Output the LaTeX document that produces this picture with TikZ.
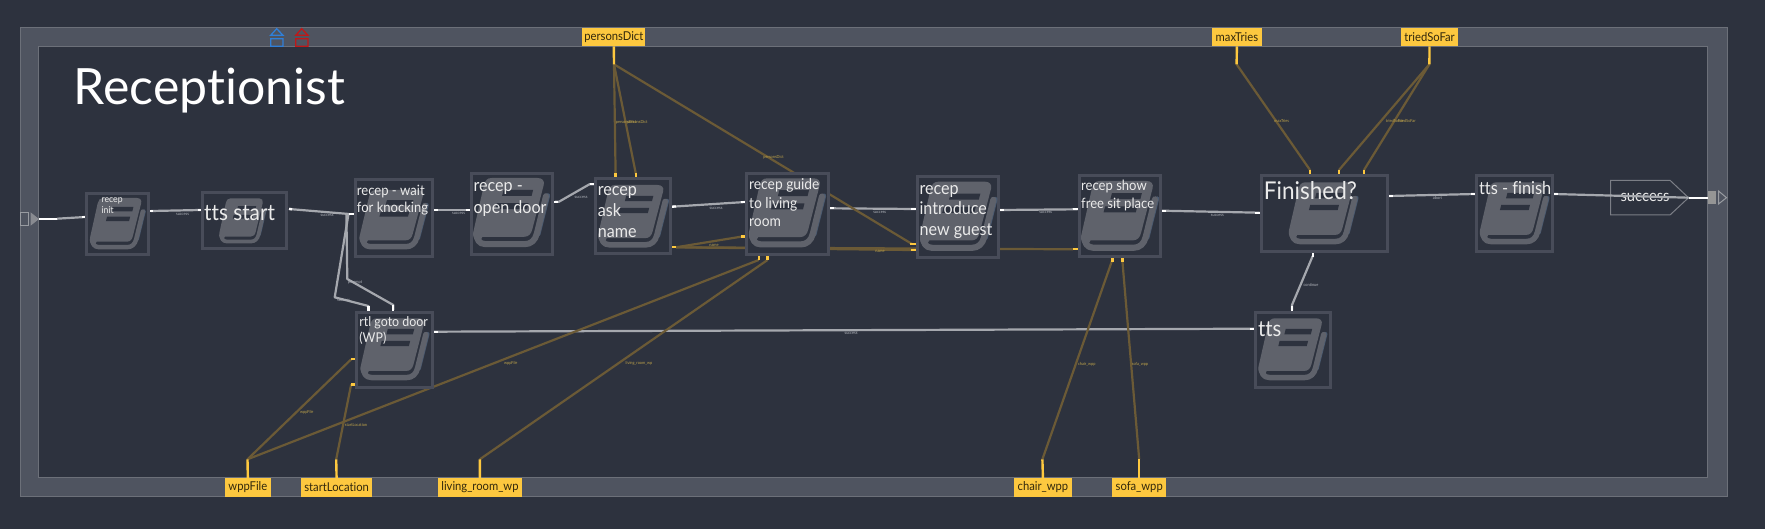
\documentclass[tikz,border=0pt]{standalone}
\usepackage{fontspec}
\setmainfont{Lato}[FakeStretch=0.92,Ligatures=NoCommon]
\newfontfamily\ttlfont{Lato}[Ligatures=NoCommon]
\definecolor{bgc}{HTML}{2D323E}
\definecolor{bandc}{HTML}{4F5460}
\definecolor{edgec}{HTML}{6C7079}
\definecolor{boxc}{HTML}{484C59}
\definecolor{iconc}{HTML}{5F626B}
\definecolor{iconb}{HTML}{4A5A70}
\definecolor{yelc}{HTML}{FDC83F}
\definecolor{brownc}{HTML}{6B5A36}
\definecolor{flowc}{HTML}{A5A8AE}
\definecolor{lblc}{HTML}{B0B3BA}
\definecolor{dlblc}{HTML}{BDA24A}
\definecolor{bluec}{HTML}{2F7FD8}
\definecolor{redc}{HTML}{C01818}
\pgfdeclarelayer{back}
\pgfdeclarelayer{wires}
\pgfsetlayers{back,wires,main}
\tikzset{
  x=1pt,y=-1pt,
  boxst/.style={draw=boxc,line width=3pt,fill=bgc,outer sep=0pt},
  flow/.style={draw=flowc,line width=2.2pt,line join=round},
  flowtick/.style={draw=white,line width=2.3pt},
  data/.style={draw=brownc,line width=2.2pt,line join=round},
  datatick/.style={draw=yelc,line width=2.4pt},
  flowlbl/.style={text=lblc,font=\fontsize{4.2}{5}\selectfont,inner sep=0pt,anchor=center},
  datalbl/.style={text=dlblc,font=\fontsize{4.2}{5}\selectfont,inner sep=0pt,anchor=center},
  portlbl/.style={fill=yelc,text=black!80!yelc,font=\fontsize{12.2}{13}\selectfont,inner sep=0pt,anchor=center,outer sep=0pt},
  tx/.style={text=white!92!black,inner sep=0pt,anchor=base west,align=left},
}
% box: name x1 y1 x2 y2 ; icon: x y w h
\newcommand{\bookbox}[9]{%
  \node[boxst,minimum width=#4pt-#2pt-3pt,minimum height=#5pt-#3pt-3pt,inner sep=0pt,anchor=north west] (#1) at (#2+1.5,#3+1.5) {};
  \begin{scope}[shift={(#6,#7)},x=#8pt,y=-#9pt]
    \draw[iconb,line width=0.06*#8pt,line cap=round,line join=round] (0.985,0.25) -- (0.858,0.80);
    \draw[iconc,line width=0.08*#8pt,line cap=round,line join=round] (0.96,0.26) -- (0.84,0.79) .. controls (0.82,0.89) and (0.76,0.945) .. (0.68,0.945) -- (0.16,0.945) .. controls (0.07,0.945) and (0.04,0.87) .. (0.045,0.79);
    \fill[iconc] (0.24,0) -- (0.85,0) .. controls (0.91,0) and (0.945,0.04) .. (0.93,0.10) -- (0.78,0.73) .. controls (0.765,0.80) and (0.73,0.84) .. (0.67,0.84) -- (0.12,0.84) -- (0.09,0.90) -- (0.03,0.90) .. controls (-0.01,0.84) and (-0.01,0.80) .. (0.005,0.74) -- (0.14,0.10) .. controls (0.155,0.04) and (0.18,0) .. (0.24,0) -- cycle;
    \fill[bgc] (0.40,0.17) -- (0.79,0.17) -- (0.77,0.255) -- (0.38,0.255) -- cycle;
    \fill[bgc] (0.31,0.36) -- (0.73,0.36) -- (0.71,0.445) -- (0.29,0.445) -- cycle;
  \end{scope}}
\newcommand{\fs}[2]{\fontsize{#1}{#2}\selectfont}
\begin{document}
\begin{tikzpicture}
\useasboundingbox (0,0) rectangle (1765,529);
\begin{pgfonlayer}{back}
  \fill[bgc] (0,0) rectangle (1765,529);
  \fill[bandc,even odd rule] (20,27.7) rectangle (1727,496.7) (38.3,46.3) rectangle (1707.7,477.7);
  \draw[edgec,line width=1pt] (20,27.7) rectangle (1727,496.7);
  \draw[edgec,line width=1pt] (38.3,46.3) rectangle (1707.7,477.7);
  % success outcome
  \draw[edgec!90!white,line width=1pt] (1610.5,180.3) -- (1670,180.3) -- (1688.5,197.7) -- (1670,215) -- (1610.5,215) -- cycle;
  \node[tx,font=\fs{16}{17}] (success) at (1620.4,202) {success};
\end{pgfonlayer}

% frame icons
\draw[bluec,line width=1.3pt,line join=miter] (270.7,35.3) -- (276.7,28.7) -- (283,35.3) -- cycle (270.7,38.7) rectangle (283,46.3);
\draw[redc,line width=1.3pt,line join=miter] (295.8,35.3) -- (301.7,28.7) -- (308,35.3) -- cycle (295.8,38.7) rectangle (308,46.3);
% entry and exit
\draw[edgec!70!white,line width=1pt] (20.5,212.3) rectangle (28.3,225.7);
\fill[edgec!70!white!90!black] (30.6,212.3) -- (39,219) -- (30.6,225.7) -- cycle;
\fill[black!10!white!65!black] (1707.7,190.7) rectangle (1716,204.3);
\draw[edgec!70!white,line width=1pt] (1718.5,191) -- (1726.5,197.7) -- (1718.5,204) -- cycle;

\node[text=white,inner sep=0pt,anchor=base west,font=\ttlfont\fs{50}{52}] (title) at (73.4,105) {Receptionist};

% state boxes
\bookbox{init}{85}{191.7}{149.6}{255.7}{90}{198}{55}{52}
\bookbox{ttsstart}{200.5}{191.3}{288}{250}{219.3}{198.3}{46.7}{45.7}
\bookbox{wait}{353.6}{178.3}{433.6}{257.7}{359.7}{190}{68}{60}
\bookbox{open}{469.6}{171.7}{553.8}{255.7}{473.4}{178}{75.6}{70}
\bookbox{ask}{594.2}{177.3}{671.8}{255}{598.4}{185}{69.6}{63.3}
\bookbox{guide}{745.3}{171.7}{829.5}{255.7}{749}{178.3}{76}{70}
\bookbox{intro}{915.6}{175}{999.8}{258.7}{920}{181.7}{76.4}{70}
\bookbox{show}{1077.5}{174.3}{1161.7}{258.3}{1081.3}{181}{76.7}{70.7}
\bookbox{finished}{1259.5}{174.3}{1388.9}{252.7}{1289}{182.3}{68.5}{62.7}
\bookbox{ttsfinish}{1475.4}{174.3}{1553.8}{252.7}{1480}{182.3}{68.5}{62.7}
\bookbox{rtl}{355.4}{310.7}{433.8}{388.7}{360.7}{318.3}{67.8}{62.7}
\bookbox{tts}{1254.4}{310.7}{1331.7}{388.7}{1258.6}{318.3}{67.8}{62.7}

% state texts
\node[tx,font=\fs{9.4}{10.6}] (initt) at (101.4,213.3) {recep\\init};
\node[tx,font=\fs{22.5}{24}] (ttsstartt) at (204,220.7) {tts start};
\node[tx,font=\fs{14.2}{17}] (waitt) at (356.7,212.7) {recep - wait\\for knocking};
\node[tx,font=\fs{17.5}{21.7}] (opent) at (473.4,213.3) {recep -\\open door};
\node[tx,font=\fs{17.5}{20.9}] (askt) at (597.6,237.7) {recep\\ask\\name};
\node[tx,font=\fs{15}{18.5}] (guidet) at (749,227) {recep guide\\to living\\room};
\node[tx,font=\fs{17.5}{20.7}] (introt) at (919.4,235.7) {recep\\introduce\\new guest};
\node[tx,font=\fs{14.2}{17.3}] (showt) at (1081,208.3) {recep show\\free sit place};
\node[tx,font=\fs{24.5}{26}] (finishedt) at (1263.7,200) {Finished?};
\node[tx,font=\fs{17.8}{20}] (ttsfinisht) at (1478.8,194.3) {tts - finish};
\node[tx,font=\fs{13.5}{15.6}] (rtlt) at (359.2,342.3) {rtl goto door\\(WP)};
\node[tx,font=\fs{22}{23}] (ttst) at (1257.8,336.7) {tts};

% data ports on the frame
\node[portlbl,minimum width=63.1pt,minimum height=18.6pt] (persons) at (613.85,37) {personsDict};
\node[portlbl,minimum width=49.8pt,minimum height=18.6pt] (maxtries) at (1236.9,37) {maxTries};
\node[portlbl,minimum width=57pt,minimum height=18.6pt] (tried) at (1429.5,37) {triedSoFar};
\node[portlbl,minimum width=45.9pt,minimum height=18.4pt] (wppfile) at (247.85,487.5) {wppFile};
\node[portlbl,minimum width=70.4pt,minimum height=18.4pt] (startloc) at (336.6,487.5) {startLocation};
\node[portlbl,minimum width=83.1pt,minimum height=18.4pt] (living) at (479.95,487.5) {living\_room\_wp};
\node[portlbl,minimum width=57.1pt,minimum height=18.4pt] (chair) at (1042.95,487.5) {chair\_wpp};
\node[portlbl,minimum width=53.6pt,minimum height=18.4pt] (sofa) at (1139.2,487.5) {sofa\_wpp};

% knots and ports
\coordinate (pK) at (614,64.3);
\coordinate (mK) at (1236.6,64.3);
\coordinate (tK) at (1429.4,64.3);
\coordinate (wK) at (247.5,459.3);
\coordinate (sK) at (336.2,459.3);
\coordinate (lK) at (479.8,459.3);
\coordinate (cK) at (1042.4,459.3);
\coordinate (oK) at (1139.2,459.3);

\begin{pgfonlayer}{wires}
  % flow connectors
  \draw[flow] (57,218.7) -- (85,217);
  \draw[flow] (151,211) -- (200.5,210);
  \draw[flow] (289,209) -- (349,214);
  \draw[flow] (433.6,210) -- (469.6,210);
  \draw[flow] (555,201.7) -- (559,201.7) -- (589.4,184.3) -- (594.2,184.3);
  \draw[flow] (672,206.7) -- (745.3,202);
  \draw[flow] (829.5,208.3) -- (915.6,209);
  \draw[flow] (999.8,210) -- (1077.5,209.3);
  \draw[flow] (1161.7,210.7) -- (1259.5,212.7);
  \draw[flow] (1388.9,196) -- (1475.4,194);
  \draw[flow] (1553.8,194) -- (1688.5,197.7);
  \draw[flow] (348.5,214) -- (334.7,297.3) -- (368.4,306) -- (368.4,310);
  \draw[flow] (346.4,214) -- (347.3,279) -- (393.3,305) -- (393.3,310);
  \draw[flow] (433.8,331.7) -- (1254.4,328.7);
  \draw[flow] (1312.7,256) -- (1292,305) -- (1292,310);
  % white ticks
  \draw[flowtick] (39,218.7) -- (57,218.7);
  \draw[flowtick] (82,217) -- (85,217);
  \draw[flowtick] (150,211) -- (153,211);
  \draw[flowtick] (197.5,210) -- (200.5,210);
  \draw[flowtick] (289,209) -- (292,209.2);
  \draw[flowtick] (349,214) -- (353.6,214);
  \draw[flowtick] (434,210) -- (437.5,210);
  \draw[flowtick] (465.5,210) -- (469.6,210);
  \draw[flowtick] (553.8,201.7) -- (558,201.7);
  \draw[flowtick] (590,184.3) -- (594.2,184.3);
  \draw[flowtick] (672,206.7) -- (676,206.5);
  \draw[flowtick] (741,202) -- (745.3,202);
  \draw[flowtick] (829.5,208.3) -- (834,208.3);
  \draw[flowtick] (911,209) -- (915.6,209);
  \draw[flowtick] (999.8,210) -- (1004,210);
  \draw[flowtick] (1073,209.3) -- (1077.5,209.3);
  \draw[flowtick] (1161.7,210.7) -- (1166,210.7);
  \draw[flowtick] (1255,212.7) -- (1259.5,212.7);
  \draw[flowtick] (1388.9,196) -- (1393,196);
  \draw[flowtick] (1471,194) -- (1475.4,194);
  \draw[flowtick] (1553.8,194) -- (1558,194);
  \draw[flowtick] (1688.5,197.7) -- (1707.7,197.7);
  \draw[flowtick] (368.4,306) -- (368.4,310.7);
  \draw[flowtick] (393.3,305.5) -- (393.3,310.7);
  \draw[flowtick] (433.8,331.7) -- (438,331.7);
  \draw[flowtick] (1250,328.7) -- (1254.4,328.7);
  \draw[flowtick] (1312.7,252.7) -- (1312.7,257);
  \draw[flowtick] (1292,306) -- (1292,310.7);

  % data connectors
  \draw[data] (pK) -- (615.6,174);
  \draw[data] (pK) -- (635.9,174);
  \draw[data] (pK) -- (912,244);
  \draw[data] (676,247.3) -- (741,236.7);
  \draw[data] (676,247.3) -- (911,250);
  \draw[data] (676,247.3) -- (1073,249.3);
  \draw[data] (wK) -- (351.2,359.3);
  \draw[data] (wK) -- (758.7,260);
  \draw[data] (sK) -- (351.2,384.3);
  \draw[data] (lK) -- (767.5,260);
  \draw[data] (cK) -- (1112.3,260);
  \draw[data] (oK) -- (1122.3,260);
  \draw[data] (mK) -- (1310,170);
  \draw[data] (tK) -- (1339,170);
  \draw[data] (tK) -- (1364,170);
  % yellow ticks
  \draw[datatick] (persons.south) -- (pK);
  \draw[datatick] (maxtries.south) -- (mK);
  \draw[datatick] (tried.south) -- (tK);
  \draw[datatick] (wppfile.north) -- (wK);
  \draw[datatick] (startloc.north) -- (sK);
  \draw[datatick] (living.north) -- (lK);
  \draw[datatick] (chair.north) -- (cK);
  \draw[datatick] (sofa.north) -- (oK);
  \draw[datatick] (615.6,173.5) -- (615.6,177.3);
  \draw[datatick] (635.9,173.5) -- (635.9,177.3);
  \draw[datatick] (910,244) -- (915.6,244);
  \draw[datatick] (671.8,247.3) -- (676,247.3);
  \draw[datatick] (741,236.7) -- (745.3,236.7);
  \draw[datatick] (911,250) -- (915.6,250);
  \draw[datatick] (1073,249.3) -- (1077.5,249.3);
  \draw[datatick] (351.2,359.3) -- (355.4,359.3);
  \draw[datatick] (351.2,384.3) -- (355.4,384.3);
  \draw[datatick] (758.7,255.7) -- (758.7,260);
  \draw[datatick] (767.5,255.7) -- (767.5,260);
  \draw[datatick] (1112.3,258.3) -- (1112.3,262);
  \draw[datatick] (1122.3,258.3) -- (1122.3,262);
  \draw[datatick] (1310,169.7) -- (1310,174.3);
  \draw[datatick] (1339,169.7) -- (1339,174.3);
  \draw[datatick] (1364,169.7) -- (1364,174.3);
\end{pgfonlayer}

% connector labels
\node[flowlbl] (f1) at (182.5,214) {success};
\node[flowlbl] (f2) at (327,215.3) {success};
\node[flowlbl] (f3) at (458.5,213.7) {success};
\node[flowlbl] (f4) at (581,197) {success};
\node[flowlbl] (f5) at (716,208) {success};
\node[flowlbl] (f6) at (879.7,212.3) {success};
\node[flowlbl] (f7) at (1045.7,212.7) {success};
\node[flowlbl] (f8) at (1217.4,215.3) {success};
\node[flowlbl] (f9) at (1437.5,198.3) {abort};
\node[flowlbl] (f10) at (343.5,300.7) {success};
\node[flowlbl] (f11) at (355,282) {preempt};
\node[flowlbl] (f12) at (851,333) {success};
\node[flowlbl] (f13) at (1311,285) {continue};
\node[datalbl] (d1) at (626,122) {personsDict};
\node[datalbl] (d2) at (637.4,122) {personsDict};
\node[datalbl] (d3) at (773.6,157.3) {personsDict};
\node[datalbl] (d4) at (714,245.7) {name};
\node[datalbl] (d5) at (880,251.7) {name};
\node[datalbl] (d6) at (1281.7,120.7) {maxTries};
\node[datalbl] (d7) at (1394.6,120.7) {triedSoFar};
\node[datalbl] (d8) at (1407,120.7) {triedSoFar};
\node[datalbl] (d9) at (306.8,412.7) {wppFile};
\node[datalbl] (d10) at (510.8,363.7) {wppFile};
\node[datalbl] (d11) at (356,425) {startLocation};
\node[datalbl] (d12) at (639,363.7) {living\_room\_wp};
\node[datalbl] (d13) at (1086.8,364.7) {chair\_wpp};
\node[datalbl] (d14) at (1140,364.7) {sofa\_wpp};
\end{tikzpicture}
\end{document}
